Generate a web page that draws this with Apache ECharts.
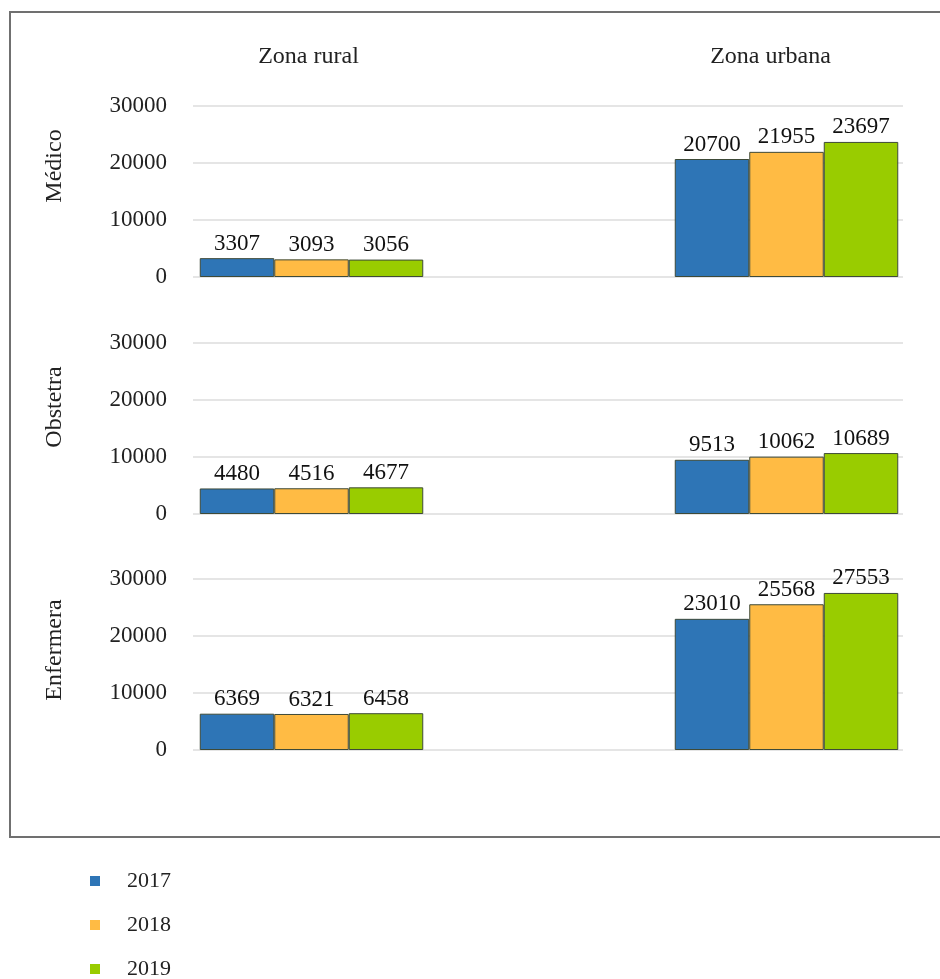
<!DOCTYPE html>
<html>
<head>
<meta charset="utf-8">
<script src="https://cdn.jsdelivr.net/npm/echarts@6/dist/echarts.min.js"></script>
<style>
  html, body { margin: 0; padding: 0; background: #fff; }
  #chart { width: 940px; height: 979px; }
</style>
</head>
<body>
<div id="chart"></div>
<script>
// Health staff by profession, zone and year
const zones = ['Zona rural', 'Zona urbana'];
const professions = ['Médico', 'Obstetra', 'Enfermera'];
const years = ['2017', '2018', '2019'];

// values per profession and zone, ordered 2017, 2018, 2019
const medicoRural = [3307, 3093, 3056];
const medicoUrbana = [20700, 21955, 23697];
const obstetraRural = [4480, 4516, 4677];
const obstetraUrbana = [9513, 10062, 10689];
const enfermeraRural = [6369, 6321, 6458];
const enfermeraUrbana = [23010, 25568, 27553];

const yTicks = [0, 10000, 20000, 30000];

const panelData = [
  [medicoRural, medicoUrbana],
  [obstetraRural, obstetraUrbana],
  [enfermeraRural, enfermeraUrbana]
];

const colors = ['#2e75b6', '#ffbb44', '#99cc00'];
const FONT = 'Liberation Serif';

// panel layout
const panelTops = [106, 343, 579];
const panelHeight = 171;
const plotLeft = 193, plotRight = 903;
const zoneBand = 237;
const zoneLefts = [193, 668];

const grids = [], xAxes = [], yAxes = [], series = [], graphics = [];

const yMin = yTicks[0], yMax = yTicks[yTicks.length - 1], yStep = yTicks[1] - yTicks[0];

panelData.forEach((panel, p) => {
  const top = panelTops[p];

  // background grid carrying the value axis and gridlines
  const bgIdx = grids.length;
  grids.push({ left: plotLeft, width: plotRight - plotLeft, top: top, height: panelHeight });
  xAxes.push({ gridIndex: bgIdx, type: 'category', data: [''], show: false });
  yAxes.push({
    gridIndex: bgIdx, type: 'value', min: yMin, max: yMax, interval: yStep,
    axisLine: { show: false }, axisTick: { show: false },
    axisLabel: {
      color: '#222', fontFamily: FONT, fontSize: 23, margin: 26,
      formatter: v => String(v)
    },
    splitLine: { lineStyle: { color: '#dcdcdc', width: 1.5 } }
  });

  // one grid per zone holding the bars
  panel.forEach((vals, z) => {
    const gi = grids.length;
    grids.push({ left: zoneLefts[z], width: zoneBand, top: top, height: panelHeight });
    xAxes.push({
      gridIndex: gi, type: 'category', data: [zones[z]],
      position: 'top',
      axisLine: { show: false }, axisTick: { show: false },
      axisLabel: {
        show: p === 0, color: '#222', fontFamily: FONT, fontSize: 24,
        margin: 37, padding: z === 1 ? [0, 32, 0, 0] : [0, 6, 0, 0]
      }
    });
    yAxes.push({ gridIndex: gi, type: 'value', min: yMin, max: yMax, show: false, splitLine: { show: false } });
    vals.forEach((v, k) => {
      series.push({
        type: 'bar',
        name: years[k],
        xAxisIndex: gi, yAxisIndex: gi,
        data: [v],
        barWidth: 74.5,
        barGap: '0%',
        itemStyle: { color: colors[k], borderColor: '#3e4a38', borderWidth: 1 },
        label: {
          show: true, position: 'top', distance: 3,
          color: '#111', fontFamily: FONT, fontSize: 23
        }
      });
    });
  });

  // profession title, rotated, left of the value axis
  graphics.push({
    type: 'text',
    x: 55, y: [166, 407, 650][p],
    rotation: Math.PI / 2,
    style: {
      text: professions[p], fill: '#222', font: '24px "' + FONT + '"',
      align: 'center', verticalAlign: 'middle'
    }
  });
});

// outer frame
graphics.push({
  type: 'rect', z: -1,
  shape: { x: 10, y: 12, width: 940, height: 825 },
  style: { fill: 'none', stroke: '#707070', lineWidth: 2 }
});

const chart = echarts.init(document.getElementById('chart'), null, { renderer: 'canvas' });
chart.setOption({
  backgroundColor: '#fff',
  animation: false,
  color: colors,
  grid: grids,
  xAxis: xAxes,
  yAxis: yAxes,
  series: series,
  graphic: graphics,
  legend: {
    orient: 'vertical',
    left: 85, top: 865, height: 140,
    data: years,
    icon: 'rect',
    itemWidth: 10, itemHeight: 10,
    itemGap: 22,
    itemStyle: { borderWidth: 0 },
    textStyle: { color: '#222', fontFamily: FONT, fontSize: 22, padding: [0, 0, 0, 22] }
  }
});
</script>
</body>
</html>
